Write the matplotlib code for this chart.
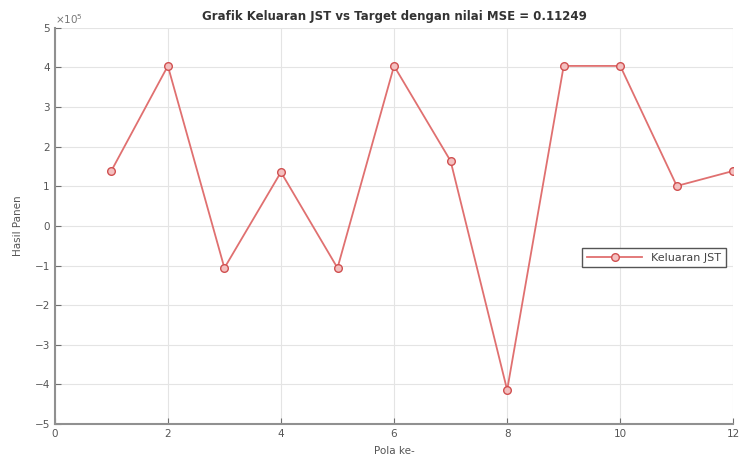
import numpy as np
import matplotlib.pyplot as plt

pola = [1, 2, 3, 4, 5, 6, 7, 8, 9, 10, 11, 12]
# keluaran JST, in units of 1e5
keluaran = [1.39, 4.04, -1.06, 1.36, -1.06, 4.04, 1.64, -4.14, 4.04, 4.04, 1.01, 1.39]

fig = plt.figure(figsize=(7.4, 4.57), dpi=100)
ax = fig.add_axes([0.074, 0.072, 0.917, 0.867])

ax.plot(pola, keluaran, color='#e07070', linewidth=1.3, marker='o',
        markersize=5.5, markerfacecolor='#f4c0c0', markeredgecolor='#d05050',
        label='Keluaran JST')

ax.set_xlim(0, 12)
ax.set_ylim(-5, 5)
ax.set_xticks(np.arange(0, 13, 2))
ax.set_yticks(np.arange(-5, 6, 1))
ax.grid(True, color='#e4e4e4', linewidth=0.8)
ax.set_axisbelow(True)

for side in ['top', 'right']:
    ax.spines[side].set_visible(False)
for side in ['left', 'bottom']:
    ax.spines[side].set_color('#909090')
    ax.spines[side].set_linewidth(1.5)
ax.tick_params(direction='in', length=4, colors='#707070', labelsize=7.5,
               labelcolor='#555555')

ax.text(0.0, 1.005, r'$\times10^{5}$', transform=ax.transAxes, fontsize=7.5,
        color='#777777', ha='left', va='bottom')

ax.set_title('Grafik Keluaran JST vs Target dengan nilai MSE = 0.11249',
             fontsize=8.5, fontweight='bold', color='#333333', pad=6)
ax.set_xlabel('Pola ke-', fontsize=7.5, color='#555555', labelpad=5)
ax.set_ylabel('Hasil Panen', fontsize=7.5, color='#555555', labelpad=8)

leg = ax.legend(loc='center right', bbox_to_anchor=(0.997, 0.42), fontsize=8,
                fancybox=False, framealpha=1, edgecolor='#555555',
                handlelength=5)
for t in leg.get_texts():
    t.set_color('#444444')

fig.savefig('out.png', dpi=100)
